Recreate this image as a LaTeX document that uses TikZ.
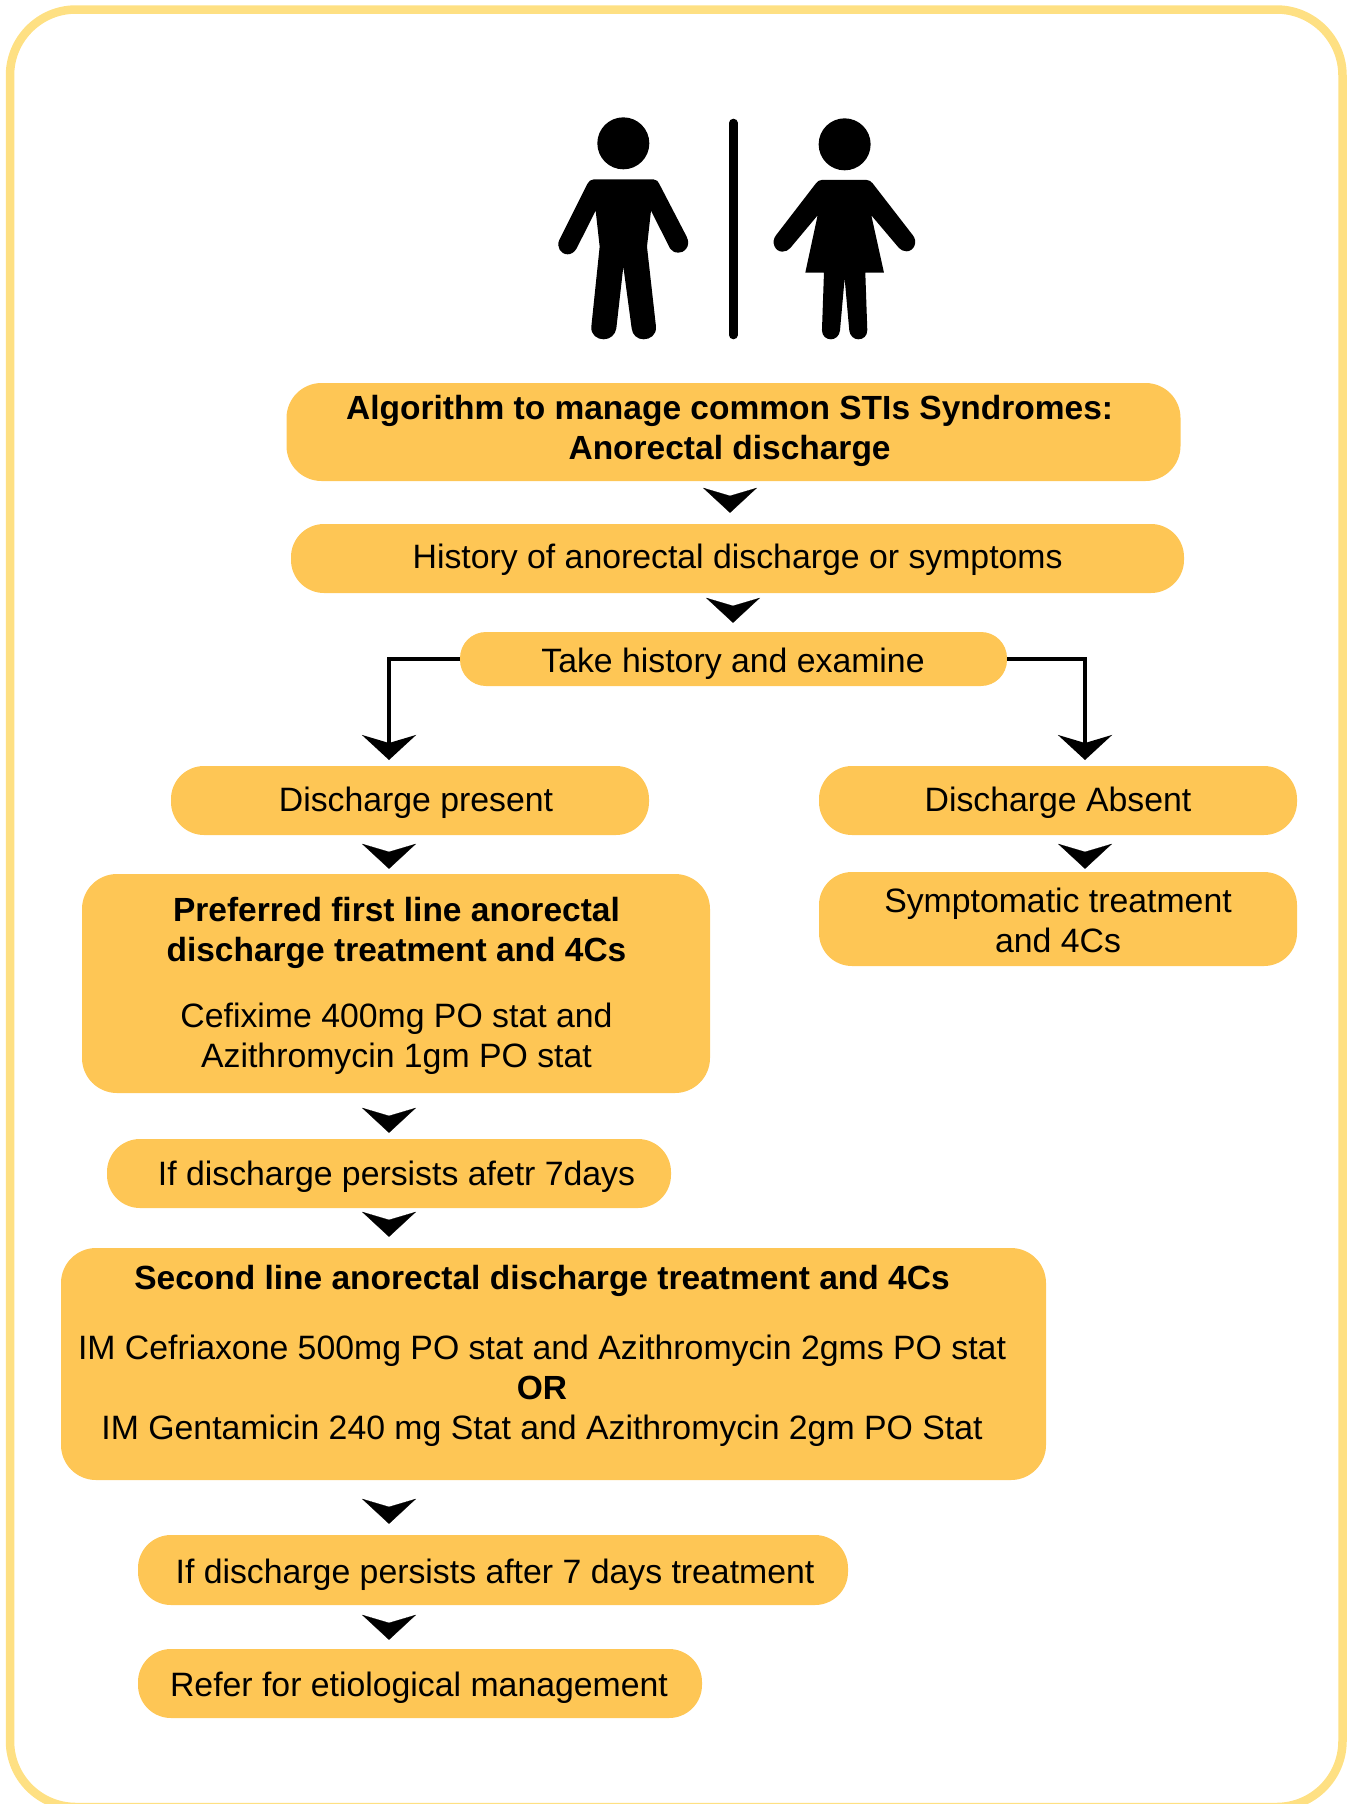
\documentclass[tikz,border=0pt]{standalone}
\usepackage{fontspec}
\setmainfont{Liberation Sans}
\usetikzlibrary{arrows.meta,calc}
\definecolor{boxfill}{HTML}{FEC655}
\definecolor{framecol}{HTML}{FEE083}
\tikzset{
  pill/.style={fill=boxfill,draw=none,inner sep=0pt,rounded corners=#1},
  pill/.default=33pt,
  lab/.style={inner sep=0pt,align=center,text=black,font=\fontsize{33.8}{40}\selectfont,text height=23pt,text depth=7pt},
  labb/.style={lab,font=\fontsize{33.5}{40}\selectfont\bfseries},
  chev/.style={line width=0.2pt,-{Stealth[length=25pt,width=54pt,inset=8pt]},black},
  elbow/.style={line width=3.8pt,-{Stealth[length=25pt,width=54pt,inset=8pt]},black},
}
% box: name, x0, y0, x1, y1, radius
\newcommand\bx[6]{%
  \pgfmathsetmacro\bxw{#4-#2}\pgfmathsetmacro\bxh{#5-#3}%
  \pgfmathsetmacro\bxc{(#2+#4)/2}\pgfmathsetmacro\bxd{(#3+#5)/2}%
  \node[pill=#6,minimum width=\bxw pt,minimum height=\bxh pt] (#1) at (\bxc,\bxd) {};}
% chevron: from node a to node b at x, shortened by gaps
\newcommand\chv[5]{\draw[chev,shorten <=#4pt,shorten >=#5pt] (#3,0 |- #1.south) -- (#3,0 |- #2.north);}
\begin{document}
\begin{tikzpicture}[x=1pt,y=-1pt]
\useasboundingbox (0,0) rectangle (1351,1804);
\draw[framecol,line width=8.5pt,rounded corners=66pt] (10,9.5) rectangle (1342.5,1807);
% figures
\draw[line width=8.6pt,line cap=round] (733.3,123) -- (733.3,335);
\begin{scope}[shift={(520,90)},x=0.3333pt,y=-0.3333pt]
\fill (310,160) circle[radius=78];
\fill (974,163) circle[radius=78];
\fill (222,268) -- (400,268) .. controls (410,268) and (415,275) .. (418,282) -- (500,440)
  .. controls (515,470) and (490,490) .. (475,488) .. controls (462,488) and (455,482) .. (450,475)
  -- (393,362) -- (381,470) -- (408,710) .. controls (410,735) and (390,748) .. (371,748)
  .. controls (352,748) and (337,735) .. (335,715) -- (310,530) -- (289,715)
  .. controls (286,735) and (270,748) .. (251,748) .. controls (232,748) and (212,735) .. (214,710)
  -- (239,470) -- (227,362) -- (170,475) .. controls (163,488) and (152,493) .. (143,493)
  .. controls (122,493) and (108,470) .. (118,450) -- (202,282) .. controls (206,274) and (212,268) .. (222,268) -- cycle;
\fill (905,270) -- (1040,270) .. controls (1048,270) and (1053,274) .. (1058,280) -- (1178,435)
  .. controls (1195,455) and (1182,484) .. (1160,484) .. controls (1150,484) and (1143,480) .. (1137,474)
  -- (1054,376) -- (1092,548) -- (1036,548) -- (1042,720) .. controls (1042,738) and (1030,748) .. (1015,748)
  .. controls (1002,748) and (990,738) .. (988,722) -- (974,565) -- (960,722)
  .. controls (958,738) and (946,748) .. (933,748) .. controls (918,748) and (906,738) .. (906,720)
  -- (912,548) -- (856,548) -- (893,376) -- (811,474) .. controls (805,481) and (797,485) .. (787,485)
  .. controls (765,485) and (752,456) .. (768,436) -- (888,280) .. controls (893,274) and (898,270) .. (905,270) -- cycle;
\end{scope}
% boxes
\bx{title}{286.5}{383}{1180.5}{481}{35}
\bx{hist}{291}{524}{1184}{593}{33}
\bx{take}{460}{632}{1007}{686}{26}
\bx{pres}{171}{766}{649}{835}{33}
\bx{abs}{819}{766}{1297}{835}{33}
\bx{symp}{819}{872}{1297}{966}{33}
\bx{pref}{82}{874}{710}{1093}{35}
\bx{pers}{107}{1139}{671}{1208}{33}
\bx{second}{61}{1248}{1046}{1480}{35}
\bx{pers2}{138}{1535}{848}{1605}{33}
\bx{refer}{138}{1649}{702}{1718}{33}
% text
\node[labb] (titleT) at (729.6,451) {Algorithm to manage common STIs Syndromes:\\Anorectal discharge};
\node[lab] (histT) at (737.6,560) {History of anorectal discharge or symptoms};
\node[lab] (takeT) at (733,664) {Take history and examine};
\node[lab] (presT) at (416,803) {Discharge present};
\node[lab] (absT) at (1058,803) {Discharge Absent};
\node[lab] (sympT) at (1058,944) {Symptomatic treatment\\and 4Cs};
\node[labb] (prefA) at (396.5,953) {Preferred first line anorectal\\discharge treatment and 4Cs};
\node[lab] (prefB) at (396.5,1059) {Cefixime 400mg PO stat and\\Azithromycin 1gm PO stat};
\node[lab] (persT) at (396.5,1177) {If discharge persists afetr 7days};
\node[labb] (secA) at (542,1281) {Second line anorectal discharge treatment and 4Cs};
\node[lab] (secB) at (542,1351) {IM Cefriaxone 500mg PO stat and Azithromycin 2gms PO stat};
\node[labb] (secC) at (542,1391.5) {OR};
\node[lab] (secD) at (542,1431.5) {IM Gentamicin 240 mg Stat and Azithromycin 2gm PO Stat};
\node[lab] (pers2T) at (495,1575.5) {If discharge persists after 7 days treatment};
\node[lab] (referT) at (419,1688.5) {Refer for etiological management};
% connectors
\chv{title}{hist}{730}{16}{11}
\chv{hist}{take}{733}{13}{9}
\chv{pres}{pref}{389}{18}{5}
\chv{abs}{symp}{1085}{17}{3}
\chv{pref}{pers}{389}{24}{6}
\chv{pers}{second}{389}{13}{11}
\chv{second}{pers2}{389}{27}{11}
\chv{pers2}{refer}{389}{19}{9}
\coordinate (ltip) at (389,760);
\coordinate (rtip) at (1085,760);
\draw[elbow] (take.west |- 0,659) -| (ltip);
\draw[elbow] (take.east |- 0,659) -| (rtip);
\end{tikzpicture}
\end{document}
